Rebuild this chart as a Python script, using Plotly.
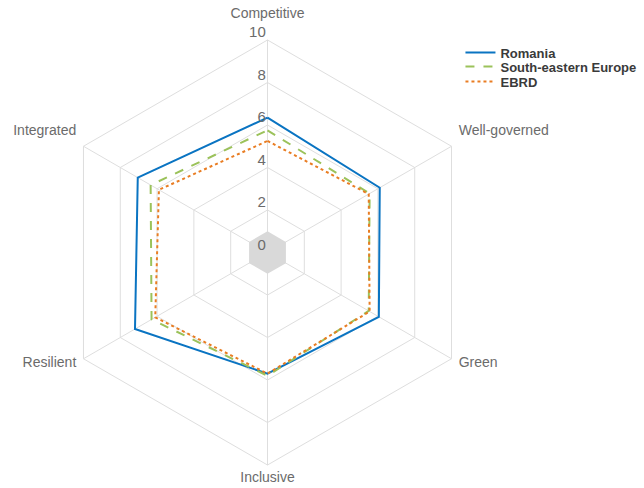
import plotly.graph_objects as go

# Transition qualities, clockwise from the top
categories = ["Competitive", "Well-governed", "Green", "Inclusive", "Resilient", "Integrated"]

romania = [6.35, 6.1, 6.05, 5.7, 7.2, 7.05]
south_eastern_europe = [5.75, 5.55, 5.5, 5.8, 6.3, 6.35]
ebrd = [5.25, 5.5, 5.55, 5.7, 6.1, 5.9]

# Shaded core of the web
core = [1, 1, 1, 1, 1, 1]

radial_ticks = [0, 2, 4, 6, 8, 10]


def closed(values):
    return list(values) + [values[0]]


theta = closed(categories)

fig = go.Figure()

fig.add_trace(go.Scatterpolar(
    r=closed(core), theta=theta, mode="lines", fill="toself",
    fillcolor="#d9d9d9", line=dict(color="#d9d9d9", width=0),
    showlegend=False, hoverinfo="skip",
))

fig.add_trace(go.Scatterpolar(
    r=closed(romania), theta=theta, mode="lines", name="Romania",
    line=dict(color="#0a74c2", width=2), legend="legend",
))
fig.add_trace(go.Scatterpolar(
    r=closed(south_eastern_europe), theta=theta, mode="lines", name="South-eastern Europe",
    line=dict(color="#9bc25a", width=2, dash="dash"), legend="legend2",
))
fig.add_trace(go.Scatterpolar(
    r=closed(ebrd), theta=theta, mode="lines", name="EBRD",
    line=dict(color="#e97d23", width=2, dash="dot"), legend="legend3",
))

grid = "#dedede"
text_grey = "#6b6b6b"
legend_font = dict(size=13, color="#3a3a3a", family="Liberation Sans, Arial, sans-serif", weight="bold")


# Labels are drawn at full size over a smaller base font, with a short blank
# trailing line that lifts them a little (the bottom one stays put)
def lifted(text, size):
    return f"<span style='font-size:{size}px'>{text}</span><br> "


angular_text = [
    f"<span style='font-size:14px'>{c}</span>" if c == "Inclusive" else lifted(c, 14)
    for c in categories
]
radial_text = [lifted(str(v), 15) for v in radial_ticks]


def legend_at(y):
    return dict(x=0.715, y=y, xanchor="left", yanchor="top", font=legend_font,
                bgcolor="rgba(0,0,0,0)", itemwidth=30)


fig.update_layout(
    width=644, height=488,
    margin=dict(l=0, r=0, t=0, b=0),
    paper_bgcolor="white", plot_bgcolor="white",
    font=dict(family="Liberation Sans, Arial, sans-serif", size=13, color=text_grey),
    polar=dict(
        domain=dict(x=[55 / 644, 480 / 644], y=[23 / 488, 448 / 488]),
        bgcolor="white",
        gridshape="linear",
        angularaxis=dict(
            rotation=90, direction="clockwise",
            tickvals=categories, ticktext=angular_text,
            gridcolor=grid, linecolor=grid, linewidth=1,
            showline=True, ticks="outside", ticklen=6, tickcolor="rgba(0,0,0,0)",
            tickfont=dict(size=9, color=text_grey),
        ),
        radialaxis=dict(
            range=[0, 10], tickvals=radial_ticks, ticktext=radial_text,
            angle=90, tickangle=90, side="counterclockwise",
            gridcolor=grid, showline=False, ticks="",
            tickfont=dict(size=8, color=text_grey),
        ),
    ),
    legend=legend_at(0.923),
    legend2=legend_at(0.8945),
    legend3=legend_at(0.8637),
)

fig.write_html("out.html")
